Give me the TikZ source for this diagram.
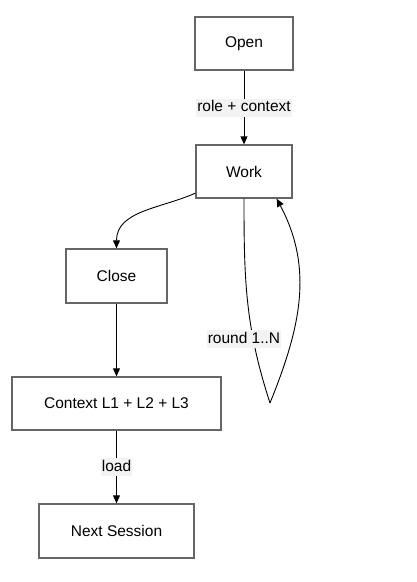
\documentclass[tikz,border=0pt]{standalone}
\usepackage{fontspec}
\setmainfont{Liberation Sans}
\usetikzlibrary{positioning, arrows.meta}
\definecolor{boxline}{HTML}{666666}
\definecolor{labelbg}{HTML}{F3F3F3}

\begin{document}
\begin{tikzpicture}[->, >={Triangle[length=8pt,width=7pt]}, on grid, line width=0.9pt,
    font=\fontsize{15.5}{18}\selectfont,
    box/.style={draw=boxline, line width=1.3pt, minimum height=53pt, inner sep=0pt},
    lbl/.style={fill=labelbg, inner sep=1pt, text height=12pt, text depth=4pt}]
      \useasboundingbox (0,0) rectangle (416pt,-582pt);
      \node[box, minimum width=98pt] (open) at (244pt,-43.5pt) {Open};
      \node[box, minimum width=96pt, below=128pt of open] (work) {Work};
      \node[box, minimum width=101pt, minimum height=54pt, below left=104.5pt and 127.5pt of work] (close) {Close};
      \node[box, minimum width=209pt, below=127.5pt of close] (ctx) {Context L1 + L2 + L3};
      \node[box, minimum width=155pt, minimum height=54pt, below=127.5pt of ctx] (next) {Next Session};
      \coordinate (turn) at (270pt,-403pt);
      \path (open) edge node[lbl, anchor=center] {role + context} (work)
            ([yshift=5.5pt]work.south west) edge[out=204, in=90] (close.north)
            (close) edge (ctx)
            (ctx) edge node[lbl, anchor=center] {load} (next);
      \draw[-] (work.south) to[out=-90, in=108] (turn);
      \draw (turn) to[out=68, in=-62] ([xshift=-16pt]work.south east);
      \node[lbl] (round) at (244pt,-339pt) {round 1..N};
    \end{tikzpicture}
\end{document}
